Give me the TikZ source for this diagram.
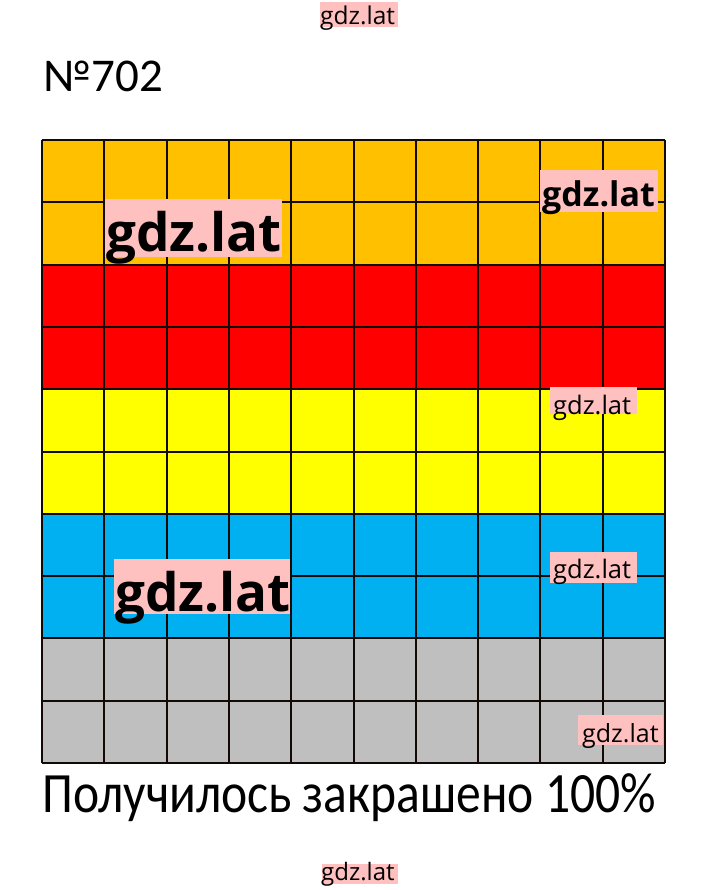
\documentclass[tikz,border=0pt]{standalone}
\usepackage{fontspec}
\setmainfont{Carlito}
\newfontfamily\wmfont{Open Sans}
\definecolor{cOrange}{RGB}{255,192,0}
\definecolor{cRed}{RGB}{255,0,0}
\definecolor{cYellow}{RGB}{255,255,0}
\definecolor{cBlue}{RGB}{0,176,240}
\definecolor{cGray}{RGB}{191,191,191}
\definecolor{cPink}{RGB}{255,192,192}
\definecolor{cLine}{RGB}{20,10,5}
\tikzset{
  wmbox/.style={fill=cPink, inner sep=0pt, draw=none},
  wmtext/.style={inner sep=0pt, anchor=base west, text=black},
  title/.style={inner sep=0pt, anchor=base west},
  gridline/.style={draw=cLine, line width=2pt},
}
\begin{document}
\begin{tikzpicture}[x=1pt,y=-1pt]
\fill[white] (0,0) rectangle (720,890);
\useasboundingbox (0,0) rectangle (720,890);
% colored rows
\fill[cOrange] (42,140) rectangle (665,264.6);
\fill[cRed] (42,264.6) rectangle (665,389.2);
\fill[cYellow] (42,389.2) rectangle (665,513.8);
\fill[cBlue] (42,513.8) rectangle (665,638.4);
\fill[cGray] (42,638.4) rectangle (665,763);
\foreach \i in {0,...,10}{
  \draw[gridline] (42+\i*62.3,140) -- (42+\i*62.3,763);
  \draw[gridline] (42,140+\i*62.3) -- (665,140+\i*62.3);
}
% titles
\node[title] (num) at (43,92) {\fontsize{47}{56}\selectfont №702};
\node[title] (cap) at (42,812) {\scalebox{0.87}[1]{\fontsize{57}{68}\selectfont Получилось закрашено 100\%}};
% watermarks
\node[wmbox, minimum width=78, minimum height=25] (w1b) at (359,14.5) {};
\node[wmtext] (w1) at (320,25) {\wmfont\fontsize{24.5}{28}\selectfont gdz.lat};
\node[wmbox, minimum width=76, minimum height=20] (w2b) at (359.5,873.5) {};
\node[wmtext] (w2) at (321,880) {\wmfont\fontsize{24}{28}\selectfont gdz.lat};
\node[wmbox, minimum width=177, minimum height=58] (w3b) at (193.5,228) {};
\node[wmtext] (w3) at (106,252) {\wmfont\bfseries\fontsize{53}{60}\selectfont gdz.lat};
\node[wmbox, minimum width=176, minimum height=55] (w4b) at (202,586.5) {};
\node[wmtext] (w4) at (115,611) {\wmfont\bfseries\fontsize{53}{60}\selectfont gdz.lat};
\node[wmbox, minimum width=118, minimum height=42] (w5b) at (599,191) {};
\node[wmtext] (w5) at (542,207) {\wmfont\bfseries\fontsize{34}{40}\selectfont gdz.lat};
\node[wmbox, minimum width=87, minimum height=27] (w6b) at (593.5,400.5) {};
\node[wmtext] (w6) at (553,414) {\wmfont\fontsize{25.5}{28}\selectfont gdz.lat};
\node[wmbox, minimum width=87, minimum height=31] (w7b) at (593.5,567.5) {};
\node[wmtext] (w7) at (553,578) {\wmfont\fontsize{25.5}{28}\selectfont gdz.lat};
\node[wmbox, minimum width=85, minimum height=30] (w8b) at (620.5,730) {};
\node[wmtext] (w8) at (582,742) {\wmfont\fontsize{25}{28}\selectfont gdz.lat};
\end{tikzpicture}
\end{document}
